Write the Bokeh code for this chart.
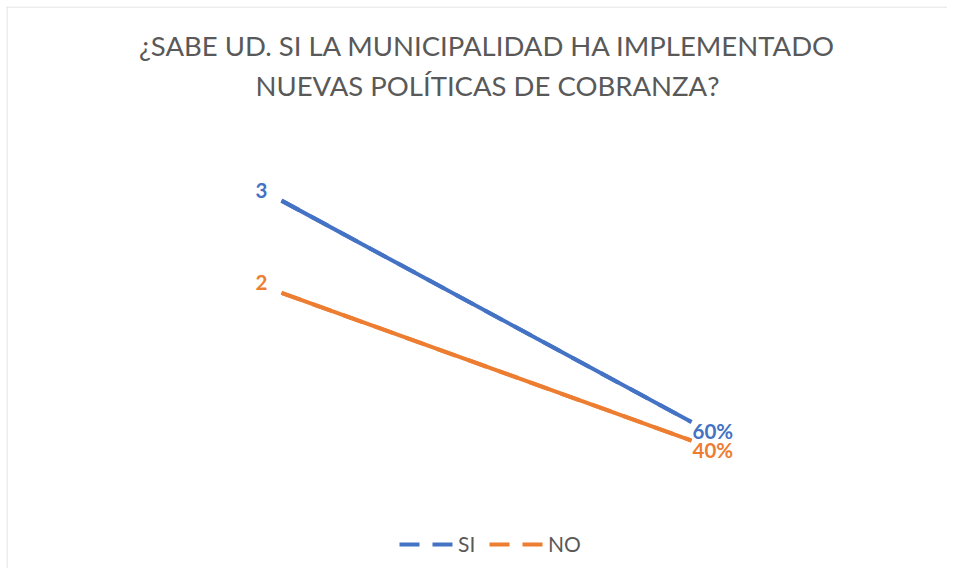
from bokeh.plotting import figure
from bokeh.models import Label, Legend, LegendItem, Range1d, ColumnDataSource, Span
from bokeh.core.properties import value
from bokeh.embed import file_html
from bokeh.resources import INLINE

# ---- data ----
title_lines = ["¿SABE UD. SI LA MUNICIPALIDAD HA IMPLEMENTADO",
               "NUEVAS POLÍTICAS DE COBRANZA?"]
series_names = ["SI", "NO"]
si_values = [3, 0.6]
no_values = [2, 0.4]
label_formats = ["{:g}", "{:.0%}"]   # first point shown as count, second as percentage
colors = ["#4472C4", "#ED7D31"]

W, H = 941, 562
p = figure(width=W, height=H, output_backend="svg", toolbar_location=None,
           x_range=Range1d(-0.6707, 1.6244), y_range=Range1d(-0.987, 5.104),
           min_border=0, min_border_left=0, min_border_right=0,
           min_border_top=0, min_border_bottom=0)
p.xaxis.visible = False
p.yaxis.visible = False
p.grid.visible = False
p.outline_line_color = None
p.background_fill_color = "white"
p.border_fill_color = "white"
p.styles = {"margin-left": "6px", "margin-top": "6px"}

# chart-area border (left and top edges visible in the reference)
p.add_layout(Span(location=0.5, location_units="screen", dimension="height",
                  line_color="#d9d9d9", line_width=1))
p.add_layout(Span(location=H - 0.5, location_units="screen", dimension="width",
                  line_color="#d9d9d9", line_width=1))

font = "Lato"

legend_items = []
for name, vals, col in zip(series_names, [si_values, no_values], colors):
    xs = list(range(len(vals)))
    labels = [fmt.format(v) for fmt, v in zip(label_formats, vals)]
    src = ColumnDataSource(dict(x=xs, y=vals, label=labels))
    p.line("x", "y", source=src, line_color=col, line_width=4)
    # dashed twin on top of the solid line (invisible), used for the legend swatch
    dashed = p.line("x", "y", source=src, line_color=col, line_width=4, line_dash="20 13")
    legend_items.append(LegendItem(label=name, renderers=[dashed]))
    # first point label: left, above
    s0 = ColumnDataSource(dict(x=xs[:1], y=vals[:1], label=labels[:1]))
    p.text("x", "y", text="label", source=s0, text_color=col,
           text_font=value(font), text_font_style="bold", text_font_size="20.5px",
           text_align="right", text_baseline="middle", x_offset=-14, y_offset=-10)
    s1 = ColumnDataSource(dict(x=xs[1:], y=vals[1:], label=labels[1:]))
    p.text("x", "y", text="label", source=s1, text_color=col,
           text_font=value(font), text_font_style="bold", text_font_size="20.5px",
           text_align="left", text_baseline="middle", x_offset=1, y_offset=9)

legend = Legend(items=legend_items, orientation="horizontal",
                location=(393, 12), glyph_width=54, glyph_height=20,
                label_text_font=font, label_text_font_size="21px",
                label_text_color="#595959", label_standoff=5, spacing=11,
                border_line_color=None, background_fill_alpha=0,
                padding=0, margin=0)
p.add_layout(legend, "center")

for i, line in enumerate(title_lines):
    p.add_layout(Label(x=481, y=H - 39 - 40 * i, x_units="screen", y_units="screen",
                       text=line, text_font=font, text_font_size="27.5px",
                       text_color="#595959", text_align="center",
                       text_baseline="middle"))

open("out.html", "w").write(file_html(p, INLINE))
